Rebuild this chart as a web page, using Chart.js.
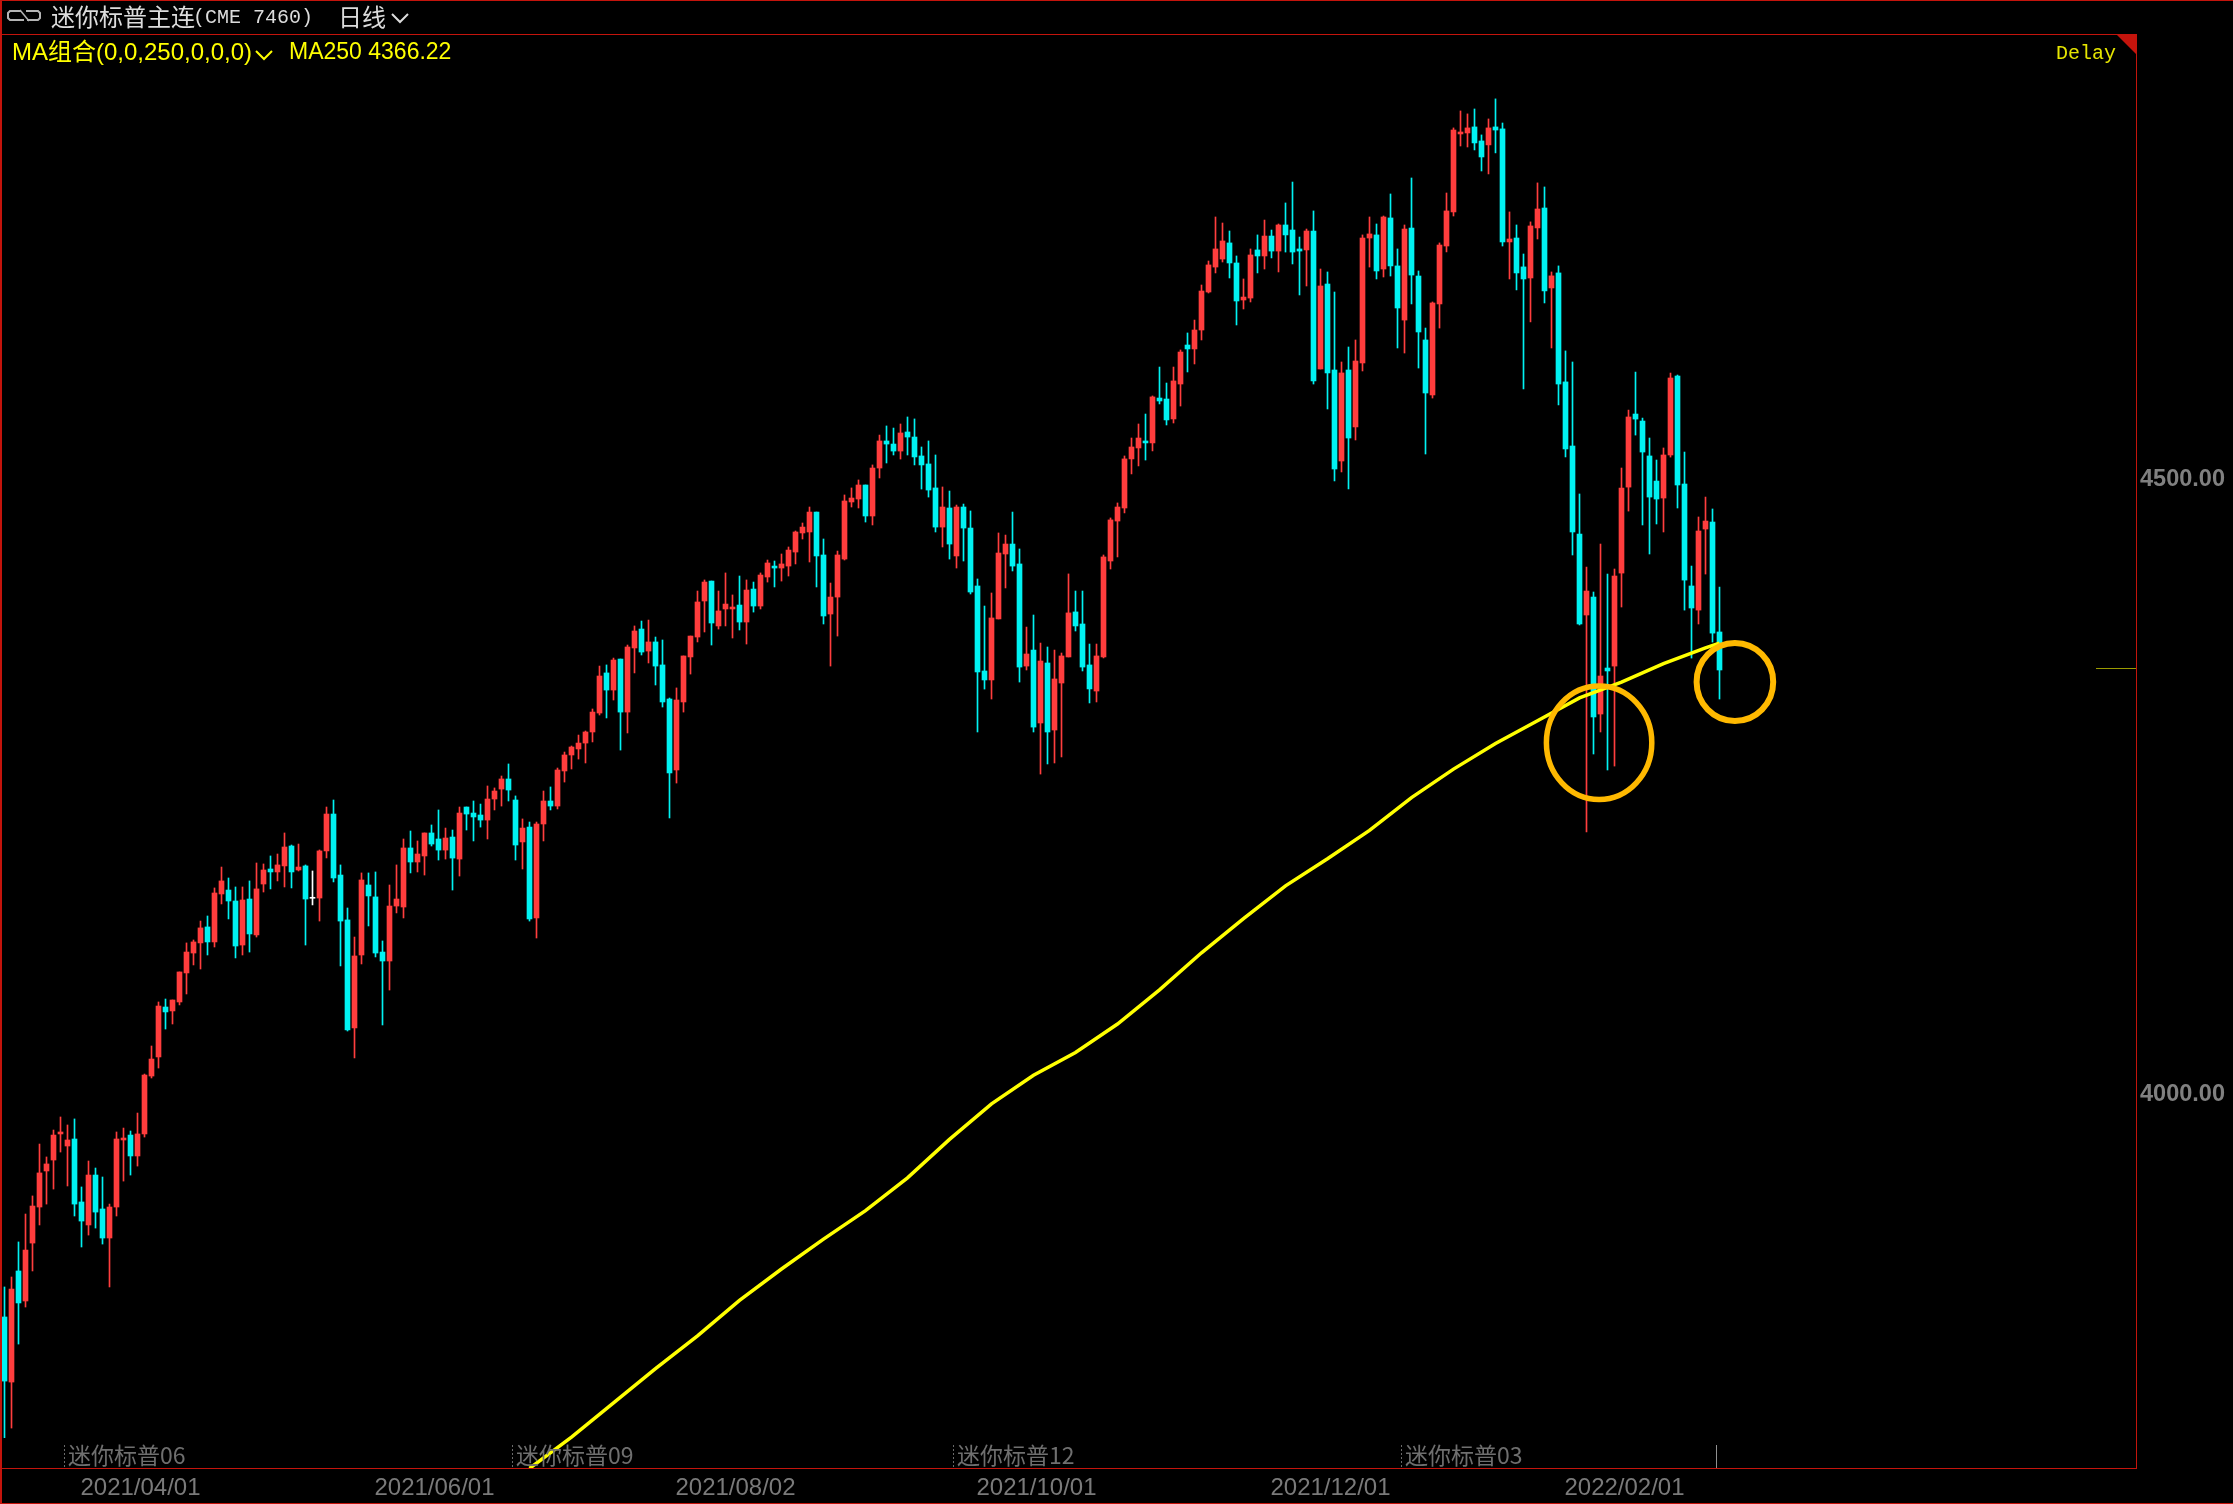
<!DOCTYPE html>
<html>
<head>
<meta charset="utf-8">
<title>迷你标普主连</title>
<script src="https://cdn.jsdelivr.net/npm/chart.js@4/dist/chart.umd.min.js"></script>
<style>
	html, body { margin: 0; padding: 0; background: #000; }
	canvas { display: block; }
</style>
</head>
<body>
<canvas id="myChart" width="2233" height="1504"></canvas>
<script>
// daily candles
const opens = [
	3818.3,3765.4,3855.7,3831.3,3878.4,3907.7,3937,3945.9,3967.1,3957.3,
	3963,3911.8,3893.1,3933.7,3906.1,3882.5,3907.7,3962.2,3966.2,3949.2,
	3967.1,4014.2,4029.7,4070.3,4067.1,4074.4,4098,4114.2,4122.4,4135.4,
	4123.2,4162.2,4165.4,4156.5,4120.7,4158.1,4128.9,4170.3,4182.5,4180.1,
	4185,4201.2,4181.7,4185,4158.7,4158.9,4197.2,4227.2,4177.6,4141.1,
	4053.3,4112.6,4169.5,4159.8,4115,4107.7,4152.4,4151.6,4199.6,4188.2,
	4193.1,4211.8,4206.9,4197.9,4208.5,4190.6,4232.9,4228,4226.4,4222.3,
	4239.4,4247.5,4255.7,4238.6,4204.5,4216.6,4142.7,4219.1,4237.8,4233.7,
	4262.2,4275.2,4280.1,4284.9,4293.9,4309.3,4341.9,4328,4353.2,4310.1,
	4362.2,4377.6,4359.7,4367.1,4348.4,4320.7,4263,4318.3,4354.9,4371.1,
	4400.4,4416.6,4380.1,4393.9,4393.9,4397.1,4383.3,4410.1,4396.3,4419.9,
	4428.8,4427.2,4428.8,4440.2,4455.7,4456.5,4472.7,4437.8,4389.8,4403.6,
	4434.5,4480.9,4483.3,4494.7,4469.5,4508.5,4530.5,4528,4522.3,4537.8,
	4533.7,4518.3,4511.8,4492.3,4460.5,4476,4437,4476.8,4459.7,4412.6,
	4343.5,4336.2,4385.8,4438.6,4446.7,4430.5,4347.5,4360.5,4301.2,4350,
	4295.5,4333.7,4354.9,4391.5,4381.7,4348.4,4327.2,4354.9,4432.9,4465.4,
	4476,4515.9,4524.8,4530.5,4528.9,4565.4,4564.6,4548.4,4576.8,4608.5,
	4605.3,4620.7,4651.6,4671.9,4678.4,4691.5,4675.2,4645.1,4646.7,4685.8,
	4680.9,4697.1,4684.9,4706.1,4702,4686.6,4685.8,4701.2,4589,4658.1,
	4588.2,4514.2,4588.2,4541.9,4593.9,4695.5,4698,4670.3,4711.8,4672.8,
	4628.8,4703.6,4664.6,4612.6,4567.9,4641.9,4689,4716.7,4780.1,4780.9,
	4785.8,4774.4,4771.2,4785.8,4784.2,4692.3,4695.5,4672,4663,4703.7,
	4719.9,4654.9,4667.1,4578.5,4526.4,4454.8,4389,4403.6,4308.5,4345.9,
	4347.5,4423.1,4493,4552.4,4546.7,4518.3,4497.9,4484.1,4519.1,4583.3,
	4495.5,4412.6,4393,4458.9,4464.6,4375.2
];
const highs = [
	3842.7,3850.8,3879.3,3902,3916.7,3958.9,3948.4,3970.3,3980.9,3974.4,
	3979.3,3924,3945.1,3939.4,3932.1,3910.1,3968.7,3971.9,3969.5,3984.1,
	4015.8,4038.6,4074.4,4076.8,4076,4098.8,4122.4,4124.8,4140.2,4144.3,
	4167.1,4184.1,4175.2,4167.9,4167.9,4172.8,4187.4,4186.6,4193.1,4194.7,
	4211.8,4202,4202.8,4185.8,4180.9,4198,4232.9,4238.6,4185.8,4150.8,
	4127.2,4179.3,4179.3,4180.1,4124,4169.5,4185.8,4206.9,4213.4,4205.3,
	4211.8,4218.3,4230.5,4215.8,4214.2,4232.9,4232.9,4237.8,4235.3,4250,
	4248.4,4258.1,4267.9,4241.9,4223.2,4220.7,4220.7,4245.9,4249.2,4264.6,
	4277.6,4282.5,4291.4,4294.7,4312.6,4347.5,4348.4,4354,4353.2,4364.6,
	4380.1,4384.1,4384.9,4371.1,4368.7,4321.5,4329.7,4355.7,4371.9,4408.5,
	4417.5,4416.6,4408.5,4423.2,4405.3,4420.7,4417.5,4415.8,4423.2,4433.7,
	4432.9,4438.6,4444.3,4457.3,4463.8,4476.8,4472.7,4450.8,4415,4441,
	4486.6,4492.3,4498.8,4494.7,4511,4535.3,4542.7,4541,4544.3,4550,
	4548.4,4525.6,4530.5,4519.1,4493.1,4489.8,4478.4,4479.2,4473.6,4418.3,
	4396.3,4406.9,4455.7,4454,4472.7,4442.7,4379.2,4389,4366.2,4363,
	4360.5,4358.1,4422.4,4408.5,4408.5,4365.4,4365.4,4437.8,4467.9,4480.1,
	4518.3,4532.9,4544.3,4552.4,4567.1,4590.6,4577.6,4590.6,4604.5,4618.3,
	4628.8,4657.3,4676.8,4712.6,4707.7,4701.2,4680.9,4662.2,4686.6,4698,
	4710.1,4702,4706.9,4724,4741,4696.3,4702.8,4717.5,4670.3,4667.9,
	4651.6,4594.7,4606.9,4612.6,4698,4712.6,4706.9,4713.4,4731.3,4686.6,
	4706.1,4744.3,4668.7,4622.3,4643.5,4691.5,4732.1,4785,4798.8,4796.4,
	4800.4,4779.3,4792.3,4808.6,4789,4716.7,4706.1,4682.5,4708.6,4740.3,
	4737,4667.9,4672.8,4603.7,4594.7,4487.4,4428,4407.7,4446.7,4422.3,
	4426.4,4508.5,4555.6,4586.5,4549.1,4532.9,4515,4524.8,4585.7,4584.1,
	4521.5,4428.8,4468.7,4484.9,4475.2,4411.7
];
const lows = [
	3720.2,3728,3796.3,3826.4,3855.7,3893.1,3910.1,3922.3,3952.4,3924.8,
	3900.4,3875.2,3884.9,3890.6,3877.6,3842.7,3900.4,3928.8,3933.7,3941,
	3964.6,4012.6,4020.7,4052.4,4056.5,4072,4080.9,4104.5,4101.2,4112.6,
	4119.1,4154.1,4141.9,4110.2,4112.6,4115,4127.2,4163.8,4166.3,4172.8,
	4167.9,4167.1,4180.9,4120.7,4153.3,4140.2,4191.5,4172,4103.7,4050.8,
	4028.9,4105.3,4136.2,4111,4055.7,4084.1,4146.8,4142.7,4179.3,4180.1,
	4177.6,4201.2,4189.8,4190.6,4165.4,4176.8,4214.2,4205.3,4216.6,4206.9,
	4230.5,4233.7,4237.8,4189.8,4182.5,4140.2,4126.4,4205.3,4230.5,4231.3,
	4253.2,4263.8,4271.9,4268.7,4285.8,4307.7,4305.3,4319.9,4279.2,4293.1,
	4341.9,4356.5,4350,4332.1,4314.2,4224,4252.4,4310.1,4341,4367.1,
	4375.2,4364.6,4377.6,4380.1,4370.3,4376.8,4365.4,4391.4,4393.9,4415.8,
	4411.8,4416.6,4420.7,4430.5,4450.8,4432.1,4411.8,4381.7,4347.5,4371.9,
	4433.7,4476.8,4476,4464.6,4462.2,4500.4,4512.6,4519.1,4515.8,4519.1,
	4511,4491.4,4484.9,4456.5,4444.3,4434.5,4427.2,4432.9,4406.1,4293.9,
	4328.8,4320.7,4385.8,4411,4424.8,4334.5,4344.3,4293.9,4259.7,4267.9,
	4268.7,4273.6,4354.9,4376,4343.5,4317.5,4318.3,4354.1,4426.4,4436.2,
	4472,4503.7,4510.2,4515,4522.4,4560.6,4543.5,4545.1,4558.9,4586.6,
	4593.1,4612.6,4650.8,4667.1,4676,4663,4624.8,4637.8,4643.5,4667.1,
	4670.3,4679.3,4667.9,4684.1,4674.4,4649.2,4656.5,4576.8,4589,4556.5,
	4498,4505.3,4491.5,4531.3,4587.4,4671.9,4662.2,4663.8,4664.6,4606.1,
	4602,4641.9,4589.8,4519.9,4565.4,4622.3,4684.2,4713.4,4770.3,4769.5,
	4767.1,4750,4747.6,4764.7,4689,4662.2,4653.3,4572.8,4627.3,4694.7,
	4642.7,4606.1,4559.8,4517.5,4437.8,4380.9,4212.6,4276,4293.9,4263,
	4266.2,4395.5,4473.5,4535.3,4462.2,4438.6,4463,4456.5,4517.4,4476,
	4393,4354,4381.7,4422.3,4367,4320.7
];
const closes = [
	3766.2,3841,3829.7,3872.7,3908.5,3935.4,3942.7,3966.2,3968.7,3962.2,
	3910.1,3896.3,3933.7,3903.6,3882.5,3907.7,3963,3963.8,3949.2,3967.1,
	4015,4028,4071.1,4066.3,4076,4098.8,4115,4123.2,4134.6,4123.2,
	4163,4172.8,4156.5,4119.9,4157.3,4129.7,4166.3,4181.7,4180.1,4185.8,
	4200.4,4180.1,4184.1,4158.1,4158.7,4197.2,4227.2,4175.2,4140.2,4051.7,
	4111.8,4173.6,4160.6,4114.2,4107.7,4152.4,4158.1,4199.6,4188.2,4194.7,
	4211.8,4202.8,4197.9,4207.7,4191.4,4228,4227.2,4224.8,4222.3,4239.4,
	4245.9,4255.7,4246.7,4202,4215.8,4141.9,4219.1,4237.8,4233.7,4263,
	4275.2,4281.7,4284.9,4293.9,4310.1,4339.4,4328,4352.4,4310.1,4363,
	4376,4358.9,4367.1,4347.5,4318.3,4260.6,4319.9,4355.7,4371.9,4399.6,
	4415.8,4382.5,4392.3,4397.9,4395.5,4383.3,4409.3,4396.3,4421.5,4431.3,
	4427.2,4430.5,4441.8,4456.5,4460.5,4472.7,4437,4388.2,4403.6,4437.8,
	4481.7,4484.1,4494.7,4469.5,4508.5,4530.5,4528,4522.3,4537,4533.7,
	4517.5,4511,4490.6,4460.5,4476.8,4446.7,4476.8,4459.7,4407.7,4342.7,
	4336.2,4386.6,4439.4,4446.7,4428.8,4346.7,4357.3,4297.9,4351.6,4293.9,
	4337,4355.7,4390.7,4380.1,4346.7,4328.9,4355.7,4436.2,4466.3,4476.8,
	4515.9,4525.6,4532.9,4528.9,4566.3,4563,4547.6,4579.3,4602.8,4605.3,
	4620.7,4652.4,4673.6,4686.6,4693.1,4675.2,4644.3,4647.5,4681.7,4680.9,
	4697.1,4684.9,4706.1,4698,4684.1,4684.9,4701.2,4579.3,4656.5,4585.8,
	4507.7,4585.8,4532.9,4595.5,4695.5,4698.8,4668.7,4712.6,4672.8,4638.6,
	4702.8,4665.4,4619.1,4569.5,4642.7,4689.8,4717.5,4783.3,4781.7,4785,
	4772.8,4761.4,4785,4783.3,4692.3,4694.7,4667.1,4662.2,4705.3,4719.1,
	4652.5,4664.7,4576.8,4524,4456.5,4381.7,4408.5,4306.1,4339.4,4343.5,
	4420.7,4492.2,4550,4548.3,4521.5,4484.9,4483.3,4519.1,4581.7,4494.7,
	4417.4,4394.7,4457.3,4465.4,4374.3,4344.3
];

// MA250, read every 6th candle
const maIndex = [75,81,87,93,99,105,111,117,123,129,135,141,147,153,159,165,171,177,183,189,195,201,207,213,219,225,231,237,243,245];
const maValues = [3695.2,3720.7,3748.5,3776.3,3802.9,3831.8,3857.3,3881.6,3904.8,3931.4,3962.7,3991.6,4014.8,4033.3,4056.5,4084.3,4114.4,4142.2,4168.8,4190.8,4213.9,4240.6,4263.7,4284.6,4303.1,4321.6,4334.4,4349.4,4362.2,4366.22];

const dateIndex = [19,61,104,147,189,231];
const dateLabels = ["2021/04/01","2021/06/01","2021/08/02","2021/10/01","2021/12/01","2022/02/01"];
const priceTicks = [4000,4500];
const contractIndex = [9,73,136,200];
const contractNames = ["迷你标普06","迷你标普09","迷你标普12","迷你标普03"];
const slotCount = 305; // room for 305 candles, the rest of the axis is empty

const RED = "#ff3d3d";
const CYAN = "#00f2f2";
const FRAME = "#c4140c";
const YELLOW = "#ffff00";
const SANS = '"Liberation Sans", "Noto Sans CJK SC", sans-serif';
const CJK = '"Noto Sans CJK SC", sans-serif';
const MONO = '"Liberation Mono", monospace';

const candleColor = opens.map((o, i) => closes[i] > o ? RED : closes[i] < o ? CYAN : "#ffffff");

const labels = Array(slotCount).fill("");
dateIndex.forEach((idx, i) => { labels[idx] = dateLabels[i]; });

const maData = Array(slotCount).fill(null);
maIndex.forEach((idx, i) => { maData[idx] = maValues[i]; });

function text(ctx, str, x, y, font, color, align) {
	ctx.font = font;
	ctx.fillStyle = color;
	ctx.textAlign = align || "left";
	ctx.textBaseline = "middle";
	ctx.fillText(str, x, y);
}

function poly(ctx, pts, color, width) {
	ctx.strokeStyle = color;
	ctx.lineWidth = width;
	ctx.beginPath();
	pts.forEach((p, i) => i ? ctx.lineTo(p[0], p[1]) : ctx.moveTo(p[0], p[1]));
	ctx.stroke();
}

// frame, header texts, contract marks, circles
const decorations = {
	id: "decorations",
	afterDraw(chart) {
		const ctx = chart.ctx;
		const x = chart.scales.x;
		const y = chart.scales.y;
		const area = chart.chartArea;
		const W = chart.width;
		const H = chart.height;

		ctx.save();

		// frame
		ctx.fillStyle = FRAME;
		ctx.fillRect(0, 0, W, 1);
		ctx.fillRect(0, 0, 2, H);
		ctx.fillRect(0, 34, area.right + 1, 1);
		ctx.fillRect(0, area.bottom, area.right + 1, 1);
		ctx.fillRect(area.right, 34, 1, area.bottom - 34);
		ctx.fillRect(0, H - 1, W, 1);
		ctx.beginPath();
		ctx.moveTo(area.right - 20, 34);
		ctx.lineTo(area.right + 1, 34);
		ctx.lineTo(area.right + 1, 55);
		ctx.closePath();
		ctx.fill();

		// header row
		poly(ctx, [[21,11],[10,11],[8,13],[8,18],[10,20],[24,20]], "#b4b4b4", 2);
		poly(ctx, [[26,11],[38,11],[40,13],[40,18],[38,20],[27,20]], "#b4b4b4", 2);
		poly(ctx, [[20,10],[29,21]], "#b4b4b4", 1.5);
		text(ctx, "迷你标普主连", 51, 17, "24px " + CJK, "#dcdcdc");
		text(ctx, "(CME 7460)", 193, 18, "20px " + MONO, "#dcdcdc");
		text(ctx, "日线", 338, 17, "24px " + CJK, "#dcdcdc");
		poly(ctx, [[392,14],[400,22],[408,14]], "#dcdcdc", 2);

		// indicator row
		text(ctx, "MA组合(0,0,250,0,0,0)", 12, 53, "24px " + SANS, YELLOW);
		poly(ctx, [[256,51],[264,59],[272,51]], YELLOW, 2);
		text(ctx, "MA250 " + maValues[maValues.length - 1].toFixed(2), 289, 53, "23px " + SANS, YELLOW);
		text(ctx, "Delay", 2056, 54, "20px " + MONO, "#e6e600");

		// contract rolls along the bottom
		ctx.setLineDash([2, 2]);
		contractIndex.forEach((idx, i) => {
			const px = x.getPixelForValue(idx) - 3.5;
			poly(ctx, [[px + 0.5, area.bottom - 23], [px + 0.5, area.bottom]], "#6a6a6a", 1);
			text(ctx, contractNames[i], px + 4, area.bottom - 13, "23px " + CJK, "#6f6f6f");
		});
		ctx.setLineDash([]);

		// last candle mark and last price mark
		const lastPx = x.getPixelForValue(opens.length - 1) - 3.5;
		poly(ctx, [[lastPx + 0.5, area.bottom - 23], [lastPx + 0.5, area.bottom]], "#909090", 1);
		const lastY = Math.round(y.getPixelForValue(closes[closes.length - 1])) - 1.5;
		poly(ctx, [[area.right - 40, lastY], [area.right, lastY]], "#9a9a00", 1);

		// hand drawn circles
		ctx.strokeStyle = "#ffb900";
		ctx.lineWidth = 5.5;
		ctx.beginPath();
		ctx.ellipse(x.getPixelForValue(227.8), y.getPixelForValue(4285.2), 52.7, 56.7, 0, 0, Math.PI * 2);
		ctx.stroke();
		ctx.lineWidth = 6;
		ctx.beginPath();
		ctx.ellipse(x.getPixelForValue(247.2), y.getPixelForValue(4334.5), 38.3, 39, 0, 0, Math.PI * 2);
		ctx.stroke();

		ctx.restore();
	}
};

new Chart(document.getElementById("myChart"), {
	data: {
		labels: labels,
		datasets: [
			{
				type: "line",
				label: "MA250",
				data: maData,
				order: 0,
				borderColor: YELLOW,
				borderWidth: 3.5,
				pointRadius: 0,
				tension: 0,
				spanGaps: true
			},
			{
				type: "bar",
				label: "body",
				data: opens.map((o, i) => [o, closes[i]]),
				order: 1,
				backgroundColor: candleColor,
				borderWidth: 0,
				barThickness: 5,
				grouped: false,
				minBarLength: 1
			},
			{
				type: "bar",
				label: "wick",
				data: lows.map((l, i) => [l, highs[i]]),
				order: 2,
				backgroundColor: candleColor,
				borderWidth: 0,
				barThickness: 1,
				grouped: false
			}
		]
	},
	options: {
		responsive: false,
		animation: false,
		devicePixelRatio: 1,
		layout: { padding: { left: 1, top: 34, right: 0, bottom: 0 } },
		plugins: {
			legend: { display: false },
			tooltip: { enabled: false }
		},
		scales: {
			x: {
				type: "category",
				offset: true,
				grid: { display: false, drawTicks: false },
				border: { display: false },
				afterFit(scale) { scale.height = 36; },
				afterBuildTicks(scale) {
					scale.ticks = dateIndex.map(idx => ({ value: idx }));
				},
				ticks: {
					autoSkip: false,
					maxRotation: 0,
					color: "#7a7a7a",
					padding: 6,
					labelOffset: 3,
					font: { family: "Liberation Sans", size: 24 }
				}
			},
			y: {
				position: "right",
				min: 3695.52,
				max: 4861.36,
				grid: { display: false, drawTicks: false },
				border: { display: false },
				afterFit(scale) { scale.width = 97; },
				afterBuildTicks(scale) {
					scale.ticks = priceTicks.map(v => ({ value: v }));
				},
				ticks: {
					color: "#808080",
					padding: 4,
					labelOffset: 1.5,
					font: { family: "Liberation Sans", size: 23.5, weight: "bold" },
					callback: v => Number(v).toFixed(2)
				}
			}
		}
	},
	plugins: [decorations]
});
</script>
</body>
</html>
